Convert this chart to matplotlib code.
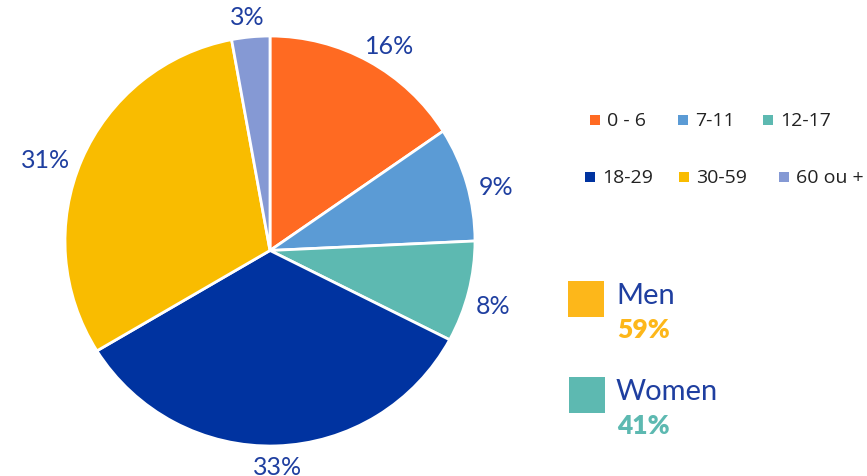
import matplotlib
matplotlib.use("Agg")
import numpy as np
import matplotlib.pyplot as plt
from matplotlib.patches import Rectangle, PathPatch
from matplotlib.path import Path

age_groups = ["0 - 6", "7-11", "12-17", "18-29", "30-59", "60 ou +"]
age_shares = [16, 9, 8, 33, 31, 3]
age_colors = ["#FF6A22", "#5B9BD5", "#5DB9B1", "#0033A0", "#F9BC00", "#8599D4"]

gender_labels = ["Men", "Women"]
gender_shares = [59, 41]
gender_colors = ["#FDB71A", "#5DB9B1"]

label_color = "#1F3FA0"

W, H = 867, 477
fig = plt.figure(figsize=(W / 100, H / 100), dpi=100)
R_PX = 205
ax = fig.add_axes([65 / W, 30 / H, 2 * R_PX / W, 2 * R_PX / H])
wedges, _ = ax.pie(
    age_shares, colors=age_colors, startangle=90, counterclock=False,
    wedgeprops=dict(edgecolor="white", linewidth=2),
)
ax.set_aspect("equal")
ax.set_xlim(-1, 1)
ax.set_ylim(-1, 1)

# The reference's wedges meet slightly below the circle's centre
apex = np.array([0.0, -9.5 / R_PX])
for w in wedges:
    p = w.get_path()
    verts = p.vertices.copy()
    near = np.hypot(verts[:, 0], verts[:, 1]) < 1e-6
    verts[near] = apex
    patch = PathPatch(Path(verts, p.codes), facecolor=w.get_facecolor(),
                      edgecolor="white", linewidth=2)
    ax.add_patch(patch)
    w.set_visible(False)

# Outside-end labels: text box placed just outside the rim, along the ray from the apex
fig.canvas.draw()
renderer = fig.canvas.get_renderer()
gap = 11 / R_PX
for w, val in zip(wedges, age_shares):
    th = np.deg2rad((w.theta1 + w.theta2) / 2)
    u = np.array([np.cos(th), np.sin(th)])
    b = apex @ u
    t_hit = -b + np.sqrt(b * b - (apex @ apex - 1))
    P = apex + t_hit * u
    t = ax.text(0, 0, f"{val}%", color=label_color, fontsize=18,
                family=["Lato", "DejaVu Sans"], ha="center", va="center")
    bb = t.get_window_extent(renderer)
    tw, thh = bb.width / R_PX, (bb.height * 0.8) / R_PX
    c = P + gap * u + np.array([tw / 2 * u[0], thh / 2 * u[1]])
    t.set_position(tuple(c))
    t.set_clip_on(False)

# Age legend (two rows of three)
leg_pos = [(595, 121), (683, 121), (768, 121), (590, 178), (684, 178), (784, 178)]
for (lx, ly), lab, col in zip(leg_pos, age_groups, age_colors):
    fig.patches.append(Rectangle(((lx - 5) / W, 1 - (ly + 5) / H), 10 / W, 10 / H,
                                 facecolor=col, transform=fig.transFigure, figure=fig))
    fig.text((lx + 12) / W, 1 - ly / H, lab, fontsize=14, color="#222222",
             family=["Open Sans", "DejaVu Sans"], va="center", ha="left")

# Gender legend
gpos = [(568, 282), (569, 378)]
for (gx, gy), lab, val, col in zip(gpos, gender_labels, gender_shares, gender_colors):
    fig.patches.append(Rectangle((gx / W, 1 - (gy + 36) / H), 36 / W, 36 / H,
                                 facecolor=col, transform=fig.transFigure, figure=fig))
    fig.text(616 / W, 1 - (gy + 14) / H, lab, fontsize=21, color=label_color,
             family=["Lato", "DejaVu Sans"], va="center", ha="left")
    fig.text(617 / W, 1 - (gy + 48) / H, f"{val}%", fontsize=19, color=col,
             family=["Lato", "DejaVu Sans"], weight="heavy", va="center", ha="left")

fig.savefig("out.png", dpi=100)
